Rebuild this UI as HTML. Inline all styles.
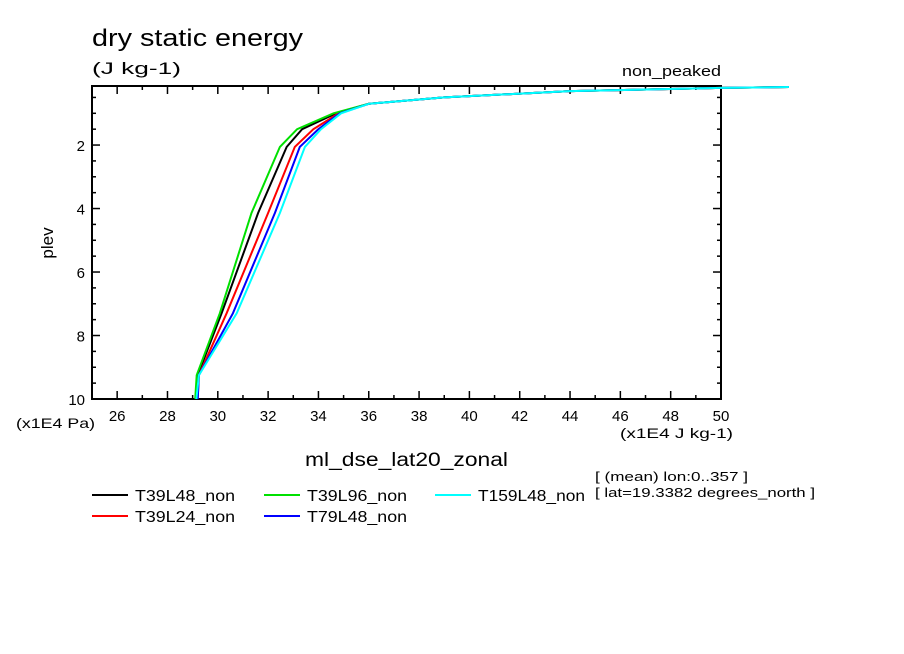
<!DOCTYPE html>
<html><head><meta charset="utf-8"><style>
body{margin:0;background:#fff;}
svg{display:block;font-family:"Liberation Sans","DejaVu Sans",sans-serif;}
</style></head><body>
<svg id="chart" width="904" height="654">
<text x="92" y="46" font-size="24" textLength="211" lengthAdjust="spacingAndGlyphs">dry static energy</text>
<text x="92" y="74" font-size="17" textLength="89" lengthAdjust="spacingAndGlyphs">(J kg-1)</text>
<text x="721" y="76" font-size="15" text-anchor="end" textLength="99" lengthAdjust="spacingAndGlyphs">non_peaked</text>
<text x="53" y="243" font-size="17" text-anchor="middle" transform="rotate(-90 53 243)">plev</text>
<text x="16" y="428" font-size="14" textLength="79" lengthAdjust="spacingAndGlyphs">(x1E4 Pa)</text>
<text x="620" y="438" font-size="14" textLength="113" lengthAdjust="spacingAndGlyphs">(x1E4 J kg-1)</text>
<text x="305" y="466" font-size="19" textLength="203" lengthAdjust="spacingAndGlyphs">ml_dse_lat20_zonal</text>
<text x="595" y="481" font-size="13" textLength="153" lengthAdjust="spacingAndGlyphs">[ (mean) lon:0..357 ]</text>
<text x="595" y="497" font-size="13" textLength="220" lengthAdjust="spacingAndGlyphs">[ lat=19.3382 degrees_north ]</text>
<g id="axes"></g><g id="series"></g><g id="legend"></g>
</svg>
<script>
const levels=[10,9.25,7.3,4.14,2.06,1.5,1.0,0.7,0.5,0.3,0.2,0.17];
const seriesNames=["T39L48_non","T39L24_non","T39L96_non","T79L48_non","T159L48_non"];
const seriesColors=["#000000","#ff0000","#00e000","#0000ff","#00ffff"];
const sBlack=[29.15,29.2,30.15,31.6,32.74,33.35,34.7,36.0,39.0,44.0,50.0,52.7];
const sRed=[29.2,29.25,30.35,32.0,33.06,33.8,34.8,36.0,39.0,44.0,50.0,52.7];
const sGreen=[29.1,29.16,30.08,31.34,32.47,33.15,34.6,36.0,39.0,44.0,50.0,52.7];
const sBlue=[29.2,29.25,30.6,32.27,33.26,34.0,34.85,36.0,39.0,44.0,50.0,52.7];
const sCyan=[29.15,29.25,30.75,32.47,33.46,34.1,34.9,36.0,39.0,44.0,50.0,52.7];
const xTicks=[26,28,30,32,34,36,38,40,42,44,46,48,50];
const yTicks=[2,4,6,8,10];
const NS="http://www.w3.org/2000/svg";
const L=92,R=721,T=86,B=399,x0=25,x1=50,y0=0.14,y1=10;
const X=v=>L+(v-x0)/(x1-x0)*(R-L);
const Y=v=>T+(v-y0)/(y1-y0)*(B-T);
function mk(tag,a,p){const e=document.createElementNS(NS,tag);for(const k in a)e.setAttribute(k,a[k]);p.appendChild(e);return e;}
const ax=document.getElementById('axes');
const fr=mk('rect',{x:L,y:T,width:R-L,height:B-T,fill:'none',stroke:'#000','stroke-width':2},ax);


for(let v=25;v<=50;v++){const len=(v%2===0)?8:4;
 mk('line',{x1:X(v),x2:X(v),y1:B,y2:B-len,stroke:'#000','stroke-width':1.5},ax);
 mk('line',{x1:X(v),x2:X(v),y1:T,y2:T+len,stroke:'#000','stroke-width':1.5},ax);}
for(let v=0.5;v<=10;v+=0.5){if(v<y0)continue;const len=(v%2===0)?8:4;
 mk('line',{x1:L,x2:L+len,y1:Y(v),y2:Y(v),stroke:'#000','stroke-width':1.5},ax);
 mk('line',{x1:R,x2:R-len,y1:Y(v),y2:Y(v),stroke:'#000','stroke-width':1.5},ax);}
xTicks.forEach(v=>{const t=mk('text',{x:X(v),y:B+22,'font-size':15,'text-anchor':'middle'},ax);t.textContent=v;
 
 });
yTicks.forEach(v=>{const t=mk('text',{x:L-7,y:Y(v)+6,'font-size':15,'text-anchor':'end'},ax);t.textContent=v;
 
 });
const sg=document.getElementById('series');
[sBlack,sRed,sGreen,sBlue,sCyan].forEach((s,i)=>{
 const d=s.map((v,j)=>(j?'L':'M')+X(v).toFixed(1)+','+Y(levels[j]).toFixed(1)).join(' ');
 const p=mk('path',{d:d,fill:'none',stroke:seriesColors[i],'stroke-width':2},sg);
 
 
});
const lg=document.getElementById('legend');
const pos=[[92,495],[92,516],[264,495],[264,516],[435,495]];
pos.forEach((q,i)=>{
 const g=mk('g',{},lg);
 
 
 mk('line',{x1:q[0],x2:q[0]+36,y1:q[1],y2:q[1],stroke:seriesColors[i],'stroke-width':2},g);
 const t=mk('text',{x:q[0]+43,y:q[1]+6,'font-size':16,textLength:(i===4?107:100),lengthAdjust:'spacingAndGlyphs'},g);t.textContent=seriesNames[i];
});
</script>
</body></html>
